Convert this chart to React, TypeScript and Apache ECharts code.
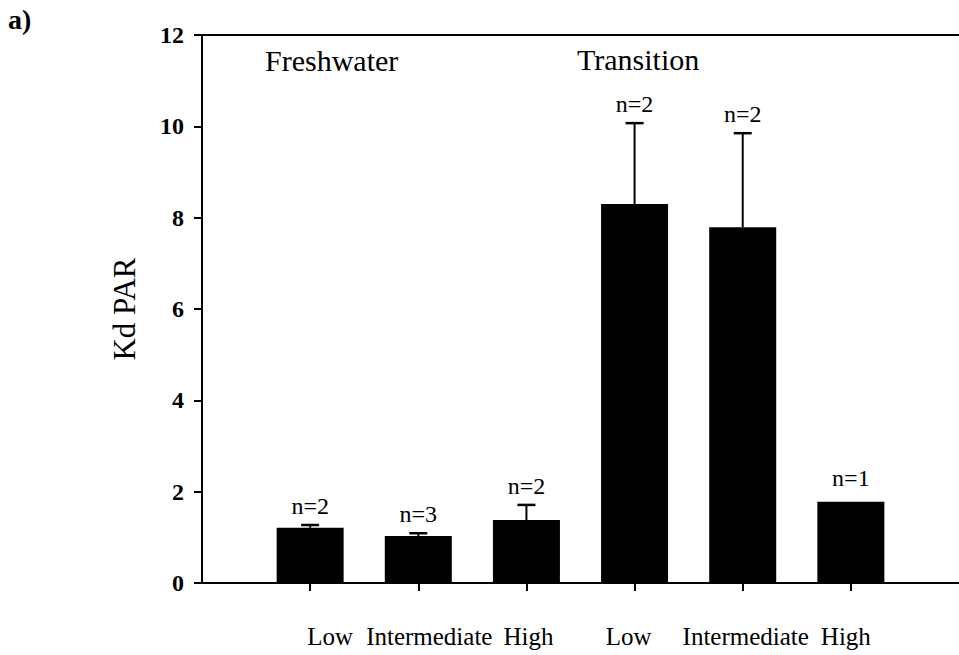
import React, { useEffect, useRef } from "react";
import * as echarts from "echarts";

const categories = ["Low", "Intermediate", "High", "Low", "Intermediate", "High"];
const kdMeans = [1.21, 1.03, 1.38, 8.3, 7.79, 1.78];
const kdErrors = [0.06, 0.06, 0.33, 1.77, 2.06, 0];
const sampleSizes = [2, 3, 2, 2, 2, 1];
const groupNames = ["Freshwater", "Transition"];
const yTickValues = [0, 2, 4, 6, 8, 10, 12];
const panelLabel = "a)";
const yAxisTitle = "Kd PAR";

// label horizontal nudges (px) to mimic original placement
const labelShift = [20, 11, 2, -6, 3, -5];

const FONT = '"Liberation Serif", "Times New Roman", serif';

export default function App() {
  const ref = useRef<HTMLDivElement>(null);
  useEffect(() => {
    if (!ref.current) return;
    const chart = echarts.init(ref.current, undefined, { renderer: "svg" });
    const positions = categories.map((_, i) => i + 1);
    const rich: Record<string, any> = {};
    categories.forEach((_, i) => {
      const s = labelShift[i];
      rich["c" + i] = {
        fontFamily: FONT,
        fontSize: 25,
        color: "#000",
        padding: s >= 0 ? [0, 0, 0, 2 * s] : [0, -2 * s, 0, 0],
      };
    });
    const option: any = {
      animation: false,
      backgroundColor: "#fff",
      grid: { left: 202, top: 35, width: 760, height: 548 },
      xAxis: [
        {
          type: "value",
          min: 0,
          max: 7,
          interval: 1,
          position: "bottom",
          splitLine: { show: false },
          axisLine: { show: true, lineStyle: { color: "#000", width: 2 } },
          axisTick: {
            show: true,
            length: 8,
            customValues: positions,
            lineStyle: { color: "#000", width: 2 },
          },
          axisLabel: {
            show: true,
            customValues: positions,
            margin: 41,
            formatter: (v: number) => {
              const i = Math.round(v) - 1;
              if (i < 0 || i >= categories.length) return "";
              return "{c" + i + "|" + categories[i] + "}";
            },
            rich,
            fontFamily: FONT,
            fontSize: 25,
            color: "#000",
          },
        },
        {
          type: "value",
          min: 0,
          max: 7,
          position: "top",
          splitLine: { show: false },
          axisLine: { show: true, lineStyle: { color: "#000", width: 2 } },
          axisTick: { show: false },
          axisLabel: { show: false },
        },
      ],
      yAxis: {
        type: "value",
        min: 0,
        max: 12,
        interval: 2,
        name: yAxisTitle,
        nameLocation: "middle",
        nameGap: 62,
        nameTextStyle: { fontFamily: FONT, fontSize: 31, color: "#000" },
        splitLine: { show: false },
        axisLine: { show: true, lineStyle: { color: "#000", width: 2 } },
        axisTick: { show: true, length: 8, lineStyle: { color: "#000", width: 2 } },
        axisLabel: {
          margin: 18,
          fontFamily: FONT,
          fontSize: 24,
          fontWeight: "bold",
          color: "#000",
          formatter: (v: number) => (yTickValues.includes(v) ? String(v) : ""),
        },
      },
      series: [
        {
          type: "bar",
          barWidth: 67,
          itemStyle: { color: "#000" },
          data: kdMeans.map((v, i) => [positions[i], v]),
        },
        {
          type: "custom",
          clip: false,
          data: kdMeans.map((v, i) => [positions[i], v, kdErrors[i], sampleSizes[i]]),
          renderItem: (params: any, api: any) => {
            const x = api.value(0);
            const mean = api.value(1);
            const err = api.value(2);
            const n = api.value(3);
            const base = api.coord([x, mean]);
            const top = api.coord([x, mean + err]);
            const children: any[] = [];
            if (err > 0) {
              children.push({
                type: "line",
                shape: { x1: base[0], y1: base[1], x2: top[0], y2: top[1] },
                style: { stroke: "#000", lineWidth: 2 },
              });
              children.push({
                type: "line",
                shape: { x1: top[0] - 9, y1: top[1], x2: top[0] + 9, y2: top[1] },
                style: { stroke: "#000", lineWidth: 2.5 },
              });
            }
            children.push({
              type: "text",
              x: top[0],
              y: top[1] - (err > 0 ? 19 : 24),
              style: {
                text: "n=" + n,
                fontFamily: FONT,
                fontSize: 24,
                fill: "#000",
                align: "center",
                verticalAlign: "middle",
              },
            });
            return { type: "group", children };
          },
        },
      ],
      graphic: [
        {
          type: "text",
          left: 8,
          top: 5,
          style: { text: panelLabel, fontFamily: FONT, fontSize: 28, fontWeight: "bold", fill: "#000" },
        },
        {
          type: "text",
          left: 265,
          top: 45,
          style: { text: groupNames[0], fontFamily: FONT, fontSize: 30, fill: "#000" },
        },
        {
          type: "text",
          left: 577,
          top: 44,
          style: { text: groupNames[1], fontFamily: FONT, fontSize: 30, fill: "#000" },
        },
      ],
    };
    chart.setOption(option);
    return () => chart.dispose();
  }, []);
  return (
    <div
      ref={ref}
      style={{ position: "absolute", left: 0, top: 0, width: 959, height: 655, background: "#fff" }}
    />
  );
}
